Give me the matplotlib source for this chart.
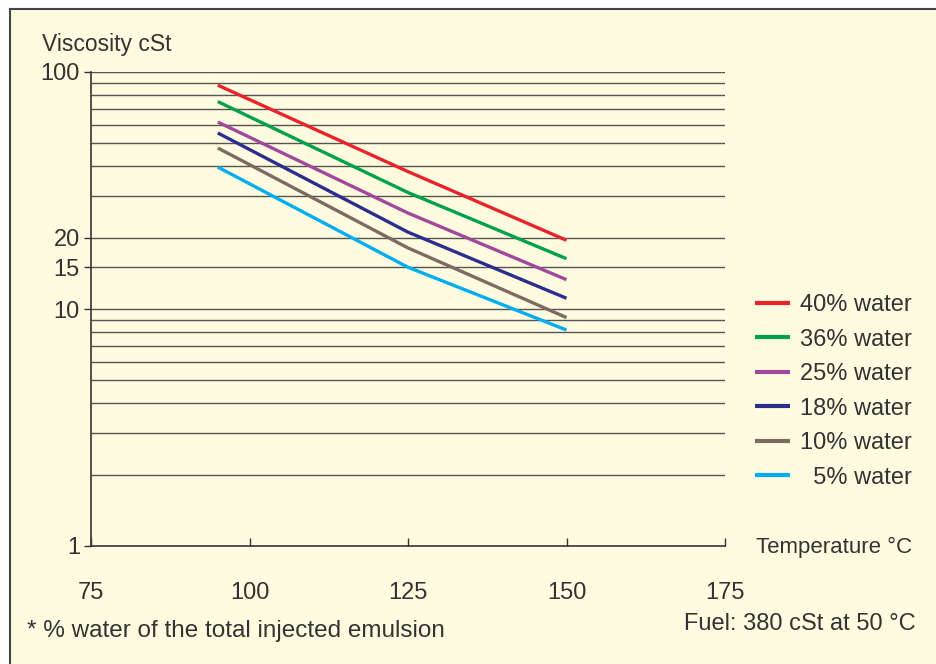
import matplotlib.pyplot as plt
from matplotlib.patches import Rectangle
from matplotlib.lines import Line2D

plt.rcParams['font.family'] = ['Liberation Sans', 'DejaVu Sans']

# data
temps = [95, 125, 150]
water_40 = [88, 38, 19.5]
water_36 = [75, 31, 16.3]
water_25 = [61.5, 25.4, 13.3]
water_18 = [55.3, 21.1, 11.1]
water_10 = [47.8, 18.1, 9.2]
water_5 = [39.7, 15.0, 8.15]

labels = ['40% water', '36% water', '25% water', '18% water', '10% water', '  5% water']
colors = ['#E8232A', '#00A14B', '#A0489A', '#2B2E8C', '#7D6B63', '#00AEEF']
series = [water_40, water_36, water_25, water_18, water_10, water_5]

xticks = [75, 100, 125, 150, 175]
yticks = [1, 10, 15, 20, 100]
ygrid = [2, 3, 4, 5, 6, 7, 8, 9, 10, 15, 20, 30, 40, 50, 60, 70, 80, 90, 100]

txt = '#333333'
bg = '#FFFBE0'

fig = plt.figure(figsize=(9.36, 6.64), dpi=100)
fig.patch.set_facecolor('white')

# cream panel with top and left border
fig.patches.append(Rectangle((10 / 936, 0), 1, 1 - 9 / 664, transform=fig.transFigure,
                             facecolor=bg, edgecolor='none', zorder=-10))
fig.lines.append(Line2D([10 / 936, 1], [1 - 9 / 664] * 2, transform=fig.transFigure,
                        color='#444444', lw=1.5, zorder=-5))
fig.lines.append(Line2D([10 / 936] * 2, [0, 1 - 9 / 664], transform=fig.transFigure,
                        color='#444444', lw=1.5, zorder=-5))

ax = fig.add_axes([91 / 936, 118 / 664, 634 / 936, 474 / 664])
ax.set_zorder(1)
ax.set_facecolor('none')
ax.set_yscale('log')
ax.set_xlim(75, 175)
ax.set_ylim(1, 100)

ax.hlines(ygrid, 75, 175, colors='#555555', lw=1, zorder=1)

for vals, c, lab in zip(series, colors, labels):
    ax.plot(temps, vals, color=c, lw=2.4, label=lab, zorder=3, solid_capstyle='butt')

ax.set_xticks(xticks)
ax.set_xticklabels([str(t) for t in xticks])
ax.set_yticks(yticks)
ax.set_yticklabels([str(t) for t in yticks])
ax.yaxis.set_minor_locator(plt.NullLocator())
ax.yaxis.set_minor_formatter(plt.NullFormatter())

for s in ['top', 'right']:
    ax.spines[s].set_visible(False)
for s in ['left', 'bottom']:
    ax.spines[s].set_color('#333333')
    ax.spines[s].set_linewidth(1.2)

ax.tick_params(axis='x', direction='in', length=6, width=1, color='#333333',
               pad=26, labelsize=17, labelcolor=txt)
ax.tick_params(axis='y', direction='out', length=5, width=1, color='#333333',
               pad=3, labelsize=17, labelcolor=txt)

fig.text(42 / 936, 1 - 44 / 664, 'Viscosity cSt', fontsize=16.5, color=txt,
         ha='left', va='center')
fig.text(756 / 936, 1 - 547 / 664, 'Temperature °C', fontsize=16, color=txt,
         ha='left', va='center')
fig.text(27 / 936, 1 - 631 / 664, '* % water of the total injected emulsion', fontsize=17.5,
         color=txt, ha='left', va='center')
fig.text(916 / 936, 1 - 624 / 664, 'Fuel: 380 cSt at 50 °C', fontsize=17, color=txt,
         ha='right', va='center')

leg = ax.legend(loc='upper left', bbox_to_anchor=(755 / 936, 1 - 294 / 664),
                bbox_transform=fig.transFigure, frameon=False, fontsize=17,
                handlelength=1.48, handletextpad=0.42, labelspacing=0.53,
                borderpad=0, borderaxespad=0)
for t in leg.get_texts():
    t.set_color(txt)
for h in leg.get_lines():
    h.set_linewidth(3)

fig.savefig('out.png', dpi=100, facecolor=fig.get_facecolor())
